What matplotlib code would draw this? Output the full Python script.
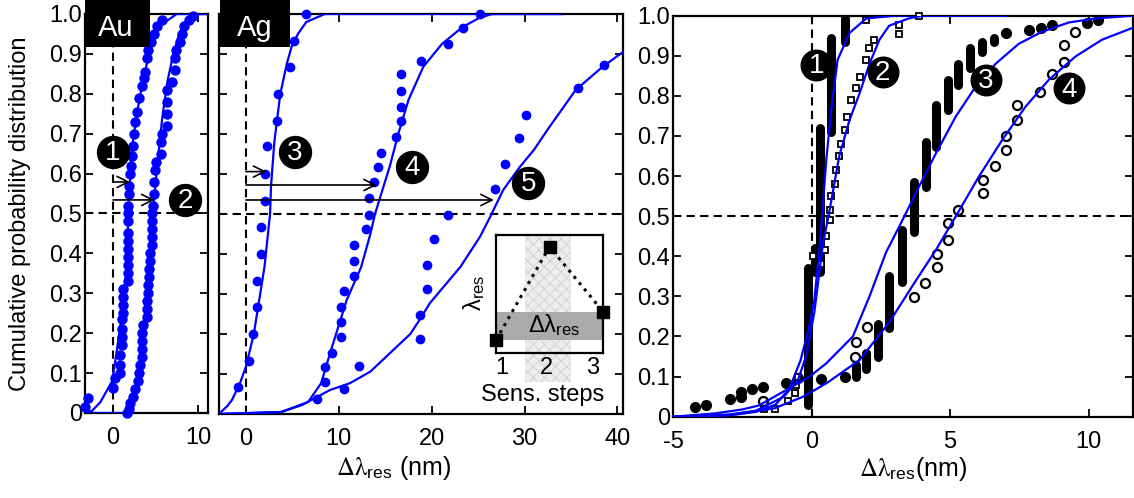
import matplotlib
matplotlib.use("Agg")
import matplotlib.pyplot as plt
from matplotlib.patches import Rectangle

plt.rcParams["font.family"] = ["Liberation Sans", "DejaVu Sans"]
plt.rcParams["mathtext.fontset"] = "stix"
plt.rcParams["axes.unicode_minus"] = False
plt.rcParams["hatch.linewidth"] = 0.6

BLUE = "#0000ff"
DASH = (0, (4, 2.5))

Y_TICKS = [0, 0.1, 0.2, 0.3, 0.4, 0.5, 0.6, 0.7, 0.8, 0.9, 1.0]
Y_TICK_LABELS = ["0", "0.1", "0.2", "0.3", "0.4", "0.5", "0.6", "0.7", "0.8", "0.9", "1.0"]

# ---------------------------------------------------------------------------
# Au panel: two measured distributions and their fits
# ---------------------------------------------------------------------------
au1_x = [-3.3, -2.9, 0.0, 0.2, 0.8, 0.8, 0.8, 1.0, 1.0, 1.0, 1.0, 1.2, 1.2, 1.2, 1.2,
         1.8, 1.8, 1.8, 1.8, 1.8, 1.8, 1.8, 1.8, 1.8, 1.8, 1.9, 1.9, 2.0, 2.1, 2.2,
         2.4, 2.5, 2.6, 2.8, 3.1, 3.4, 3.6, 3.8, 4.0, 4.1, 4.5, 4.8, 5.2, 5.8]
au1_y = [0.015, 0.038, 0.063, 0.088, 0.10, 0.12, 0.145, 0.17, 0.19, 0.21, 0.235, 0.25,
         0.27, 0.29, 0.31, 0.33, 0.35, 0.37, 0.39, 0.41, 0.43, 0.45, 0.48, 0.50, 0.52,
         0.55, 0.57, 0.60, 0.62, 0.645, 0.67, 0.70, 0.73, 0.755, 0.79, 0.82, 0.84,
         0.855, 0.89, 0.91, 0.93, 0.95, 0.97, 0.985]
au2_x = [1.7, 1.9, 2.0, 2.3, 2.6, 2.9, 3.1, 3.2, 3.4, 3.4, 3.4, 3.4, 3.5, 4.0, 4.0, 4.0,
         4.1, 4.1, 4.2, 4.2, 4.3, 4.4, 4.55, 4.55, 4.55, 4.55, 4.55, 4.7, 4.8, 4.8, 4.9,
         5.1, 5.7, 5.7, 5.8, 6.3, 6.3, 6.3, 6.4, 7.0, 7.3, 7.3, 7.4, 7.9, 8.1, 8.4, 8.9, 9.4]
au2_y = [0.0, 0.01, 0.025, 0.04, 0.06, 0.08, 0.10, 0.12, 0.14, 0.16, 0.18, 0.20, 0.22,
         0.24, 0.26, 0.28, 0.30, 0.32, 0.34, 0.36, 0.38, 0.40, 0.42, 0.44, 0.46, 0.48,
         0.50, 0.52, 0.55, 0.58, 0.61, 0.63, 0.65, 0.68, 0.70, 0.72, 0.75, 0.78, 0.81,
         0.83, 0.86, 0.89, 0.91, 0.93, 0.95, 0.97, 0.985, 0.995]
au_fit1_x = [-3.3, -2.5, -1.5, -0.1, 0.4, 0.8, 1.2, 1.6, 1.8, 2.2, 2.8, 3.5, 4.4, 5.5, 7.5, 11.2]
au_fit1_y = [0.0, 0.005, 0.027, 0.08, 0.15, 0.21, 0.27, 0.37, 0.50, 0.66, 0.75, 0.83, 0.915, 0.97, 1.0, 1.0]
au_fit2_x = [-3.3, 1.5, 2.2, 2.8, 3.3, 3.8, 4.3, 4.7, 5.2, 5.8, 6.4, 7.1, 7.8, 8.6, 9.5, 11.2]
au_fit2_y = [0.0, 0.0, 0.02, 0.06, 0.14, 0.26, 0.40, 0.50, 0.62, 0.74, 0.83, 0.90, 0.95, 0.98, 1.0, 1.0]
au_arrow_y = [0.579, 0.534]
au_arrow_end = [2.0, 4.9]
au_marks = ["1", "2"]
au_mark_x = [0.0, 8.5]
au_mark_y = [0.655, 0.534]

# ---------------------------------------------------------------------------
# Ag panel: three distributions (3, 4, 5)
# ---------------------------------------------------------------------------
ag3_x = [6.5, 5.2, 4.7, 3.5, 3.4, 2.3, 2.05, 2.05, 1.6, 1.6, 1.2, 1.2, 0.8, 0.36, -0.9]
ag3_y = [1.0, 0.933, 0.868, 0.80, 0.733, 0.67, 0.60, 0.533, 0.467, 0.40, 0.333, 0.267,
         0.20, 0.133, 0.068]
ag4_x = [25.2, 23.4, 21.8, 18.8, 16.7, 16.7, 16.7, 16.7, 16.2, 14.5, 14.2, 13.8, 13.3,
         13.3, 12.9, 11.6, 11.6, 11.6, 10.6, 10.2, 10.2, 10.2, 9.3, 8.5, 8.5, 7.7]
ag4_y = [1.0, 0.964, 0.924, 0.883, 0.85, 0.808, 0.768, 0.733, 0.693, 0.652, 0.618, 0.581,
         0.539, 0.498, 0.463, 0.423, 0.383, 0.346, 0.308, 0.268, 0.231, 0.192, 0.153,
         0.118, 0.081, 0.037]
ag5_x = [38.5, 35.8, 30.2, 29.4, 27.9, 26.8, 21.8, 20.2, 19.5, 19.5, 18.7, 18.7, 12.2, 10.6]
ag5_y = [0.873, 0.814, 0.748, 0.689, 0.624, 0.562, 0.498, 0.438, 0.373, 0.312, 0.248,
         0.187, 0.121, 0.063]
ag_fit3_x = [-2.9, -2.0, -1.5, -0.64, 0.0, 0.85, 2.0, 2.6, 2.7, 3.06, 3.7, 4.4, 4.9, 5.6, 6.5, 8.5, 34.0]
ag_fit3_y = [0.0, 0.02, 0.035, 0.077, 0.118, 0.20, 0.368, 0.50, 0.568, 0.68, 0.80, 0.875,
             0.917, 0.95, 0.98, 1.0, 1.0]
ag_fit4_x = [-2.9, 3.8, 6.7, 8.1, 9.06, 10.85, 12.4, 13.4, 13.9, 15.5, 16.4, 17.5,
             19.1, 21.1, 23.3, 25.1, 26.5, 34.0]
ag_fit4_y = [0.0, 0.005, 0.03, 0.077, 0.152, 0.285, 0.367, 0.45, 0.50, 0.62, 0.70,
             0.785, 0.868, 0.925, 0.967, 0.99, 1.0, 1.0]
ag_fit5_x = [-2.9, 3.8, 6.0, 9.06, 11.2, 13.4, 15.5, 17.7, 18.8, 19.8, 23.1, 25.2, 26.3,
             27.7, 29.5, 31.0, 32.6, 35.5, 38.4, 40.6]
ag_fit5_y = [0.0, 0.005, 0.022, 0.06, 0.077, 0.106, 0.152, 0.20, 0.239, 0.277, 0.368,
             0.443, 0.493, 0.56, 0.618, 0.66, 0.715, 0.81, 0.868, 0.905]
ag_arrow_y = [0.606, 0.5725, 0.535]
ag_arrow_end = [2.2, 14.1, 26.7]
ag_marks = ["3", "4", "5"]
ag_mark_x = [5.3, 17.9, 30.4]
ag_mark_y = [0.656, 0.618, 0.578]

# inset: resonance position over the three sensing steps
steps = [1, 2, 3]
step_vals = [0.11, 0.90, 0.35]
step_labels = ["1", "2", "3"]

# ---------------------------------------------------------------------------
# Right panel: four distributions (black) with fits (blue)
# ---------------------------------------------------------------------------
r1_stack_x = [-0.12, 0.11, 0.30, 0.71, 1.20]
r1_stack_lo = [0.03, 0.36, 0.36, 0.71, 0.935]
r1_stack_hi = [0.37, 0.42, 0.72, 0.945, 0.995]

r2_x = [-1.7, -1.33, -0.85, -0.61, -0.55, -0.5, 0.05, 0.35, 0.47, 0.53, 0.65, 0.65, 0.71,
        0.83, 0.89, 1.0, 1.07, 1.19, 1.27, 1.43, 1.6, 1.73, 1.95, 2.09, 2.27, 3.15, 3.15,
        1.97, 3.88]
r2_y = [0.018, 0.02, 0.04, 0.06, 0.08, 0.10, 0.40, 0.38, 0.416, 0.45, 0.49, 0.515, 0.55,
        0.58, 0.615, 0.65, 0.68, 0.715, 0.748, 0.79, 0.82, 0.848, 0.89, 0.92, 0.94, 0.954,
        0.977, 0.99, 0.998]

r3_x = [-4.2, -3.8, -2.95, -2.55, -2.55, -2.16, -1.75, -0.91, -0.5, 0.35, 1.19,
        7.0, 7.84, 8.27, 8.67, 9.94, 10.34]
r3_y = [0.024, 0.029, 0.043, 0.05, 0.062, 0.068, 0.073, 0.085, 0.096, 0.094, 0.10,
        0.956, 0.964, 0.97, 0.976, 0.983, 0.99]
r3_stack_x = [1.6, 1.97, 2.39, 2.8, 3.28, 3.68, 4.13, 4.5, 4.93, 5.3, 5.72, 6.16, 6.6]
r3_stack_lo = [0.10, 0.12, 0.15, 0.22, 0.335, 0.46, 0.574, 0.673, 0.765, 0.827, 0.87, 0.91, 0.935]
r3_stack_hi = [0.13, 0.16, 0.23, 0.35, 0.465, 0.586, 0.686, 0.777, 0.84, 0.88, 0.92, 0.935, 0.945]

r4_x = [-1.75, 1.55, 1.6, 2.0, 3.7, 4.1, 4.52, 4.52, 4.93, 4.93, 5.3, 6.2, 6.2, 6.62,
        7.0, 7.0, 7.42, 7.42, 8.23, 8.66, 9.1, 9.1, 9.52]
r4_y = [0.04, 0.15, 0.187, 0.224, 0.298, 0.333, 0.373, 0.406, 0.44, 0.482, 0.515, 0.557,
        0.59, 0.625, 0.665, 0.70, 0.74, 0.777, 0.81, 0.855, 0.885, 0.927, 0.96]

r_fit1_x = [-5.0, -3.0, -2.0, -1.3, -0.8, -0.4, -0.1, 0.1, 0.3, 0.53, 0.71, 0.94, 1.37, 1.97, 3.0, 7.0]
r_fit1_y = [0.0, 0.003, 0.012, 0.03, 0.07, 0.14, 0.22, 0.29, 0.43, 0.64, 0.765, 0.89,
            0.957, 0.993, 1.0, 1.0]
r_fit2_x = [-5.0, -3.0, -2.0, -1.0, -0.5, -0.2, 0.1, 0.41, 0.65, 1.0, 1.37, 1.73, 2.09,
            2.45, 2.8, 3.5, 4.0, 7.0]
r_fit2_y = [0.0, 0.005, 0.015, 0.05, 0.09, 0.15, 0.26, 0.43, 0.515, 0.65, 0.74, 0.806,
            0.88, 0.94, 0.975, 0.993, 1.0, 1.0]
r_fit3_x = [-5.0, -3.5, -2.5, -1.9, -0.9, -0.07, 0.53, 1.49, 2.09, 2.69, 3.28, 3.88, 4.49,
            5.2, 5.92, 6.64, 7.48, 8.32, 9.28, 10.24, 11.6]
r_fit3_y = [0.0, 0.008, 0.018, 0.028, 0.067, 0.10, 0.133, 0.20, 0.30, 0.41, 0.49, 0.574,
            0.657, 0.748, 0.823, 0.88, 0.93, 0.96, 0.983, 0.993, 1.0]
r_fit4_x = [-5.0, -2.9, -1.33, -0.3, 0.53, 1.73, 2.8, 3.77, 4.49, 5.2, 6.04, 6.88, 7.72,
            8.56, 9.52, 10.48, 11.6]
r_fit4_y = [0.0, 0.005, 0.021, 0.05, 0.083, 0.141, 0.235, 0.34, 0.416, 0.499, 0.599,
            0.69, 0.773, 0.84, 0.898, 0.94, 0.97]
r_marks = ["1", "2", "3", "4"]
r_mark_x = [0.17, 2.57, 6.28, 9.28]
r_mark_y = [0.877, 0.86, 0.84, 0.819]

XLABEL = r"$\mathrm{\Delta\lambda}_{\mathregular{res}}$"


def style_axes(ax, xlim, xticks, ylabels=True):
    ax.set_xlim(*xlim)
    ax.set_ylim(0, 1)
    ax.set_xticks(xticks)
    ax.set_yticks(Y_TICKS)
    ax.set_yticklabels(Y_TICK_LABELS)
    ax.tick_params(direction="in", length=6, width=1.3, top=True, right=True, labelsize=17)
    ax.tick_params(axis="x", pad=10)
    ax.tick_params(axis="y", pad=2, labelleft=ylabels)
    for sp in ax.spines.values():
        sp.set_linewidth(1.6)
    ax.axhline(0.5, color="k", lw=1.5, ls=DASH, zorder=1)
    ax.axvline(0, color="k", lw=1.5, ls=DASH, zorder=1)


def metal_tag(ax, text, x0, width, tx):
    ax.add_patch(Rectangle((x0, 0.917), width, 0.2, transform=ax.transAxes,
                           fc="black", ec="none", clip_on=False, zorder=20))
    ax.text(tx, 0.966, text, transform=ax.transAxes, color="white", fontsize=21,
            ha="center", va="center", zorder=21)


def number_marks(ax, xs, ys, labels, size=23):
    ax.plot(xs, ys, "o", ms=size, color="black", ls="none", clip_on=False, zorder=15)
    for x, y, s in zip(xs, ys, labels):
        ax.annotate(s, (x, y), xytext=(0, -1), textcoords="offset points", color="white",
                    fontsize=20, ha="center", va="center", zorder=16)


def arrows(ax, ys, ends):
    for y, xe in zip(ys, ends):
        ax.annotate("", xy=(xe, y), xytext=(0, y),
                    arrowprops=dict(arrowstyle="->", lw=1.2, color="black",
                                    mutation_scale=20, shrinkA=0, shrinkB=0), zorder=12)


fig = plt.figure(figsize=(11.34, 4.98), dpi=100)
ax_au = fig.add_axes([0.0750, 0.1707, 0.1085, 0.8012])
ax_ag = fig.add_axes([0.1931, 0.1687, 0.3563, 0.8032])
ax_r = fig.add_axes([0.5935, 0.1633, 0.4056, 0.8052])
ax_in = fig.add_axes([0.4374, 0.2912, 0.0944, 0.2370])

# Au
style_axes(ax_au, (-3.3, 11.2), [0, 10])
au_dot = dict(marker="o", ls="none", color=BLUE, ms=6.5, clip_on=False, zorder=3)
ax_au.plot(au1_x, au1_y, **au_dot)
ax_au.plot(au2_x, au2_y, **au_dot)
ax_au.plot(au_fit1_x, au_fit1_y, color=BLUE, lw=1.6, zorder=4)
ax_au.plot(au_fit2_x, au_fit2_y, color=BLUE, lw=1.6, zorder=4)
arrows(ax_au, au_arrow_y, au_arrow_end)
number_marks(ax_au, au_mark_x, au_mark_y, au_marks)
metal_tag(ax_au, "Au", 0.0, 0.528, 0.252)
ax_au.set_ylabel("Cumulative probability distribution", fontsize=17)
ax_au.yaxis.set_label_coords(-0.44, 0.5)

# Ag
style_axes(ax_ag, (-2.9, 40.6), [0, 10, 20, 30, 40], ylabels=False)
ag_dot = dict(marker="o", ls="none", color=BLUE, ms=6, clip_on=False, zorder=3)
ax_ag.plot(ag3_x, ag3_y, **ag_dot)
ax_ag.plot(ag4_x, ag4_y, **ag_dot)
ax_ag.plot(ag5_x, ag5_y, **ag_dot)
for fx, fy in [(ag_fit3_x, ag_fit3_y), (ag_fit4_x, ag_fit4_y), (ag_fit5_x, ag_fit5_y)]:
    ax_ag.plot(fx, fy, color=BLUE, lw=1.6, zorder=4)
arrows(ax_ag, ag_arrow_y, ag_arrow_end)
number_marks(ax_ag, ag_mark_x, ag_mark_y, ag_marks)
metal_tag(ax_ag, "Ag", 0.0025, 0.174, 0.089)
ax_ag.set_xlabel(XLABEL + " (nm)", fontsize=18)
ax_ag.xaxis.set_label_coords(0.433, -0.10)

# inset sketch
ax_in.set_xlim(1, 3)
ax_in.set_ylim(0, 1)
ax_in.axvspan(1.55, 2.4, ymin=-0.25, ymax=1, fc="#ededed", ec="#cfcfcf", hatch="xxx",
              lw=0, clip_on=False, zorder=0)
ax_in.axhspan(step_vals[0], step_vals[2], color="#aaaaaa", lw=0, zorder=1)
ax_in.plot(steps, step_vals, ls=":", color="black", lw=2.2, marker="s", ms=8.5,
           clip_on=False, zorder=5)
ax_in.text(2.08, (step_vals[0] + step_vals[2]) / 2, "Δλ$_{\\mathregular{res}}$",
           fontsize=17, ha="center", va="center", zorder=6)
ax_in.set_xticks([1.1, 1.95, 2.8])
ax_in.set_xticklabels(step_labels)
ax_in.set_yticks([])
ax_in.tick_params(axis="x", length=0, pad=3, labelsize=17)
ax_in.text(0.44, -0.36, "Sens. steps", transform=ax_in.transAxes, fontsize=17,
           ha="center", va="center")
ax_in.text(-0.2, 0.51, "λ$_{\\mathregular{res}}$", transform=ax_in.transAxes,
           fontsize=17, rotation=90, ha="center", va="center")
for sp in ax_in.spines.values():
    sp.set_linewidth(1.6)

# right panel
style_axes(ax_r, (-5.0, 11.6), [-5, 0, 5, 10])
stack1 = ax_r.vlines(r1_stack_x, r1_stack_lo, r1_stack_hi, colors="black", lw=6.5, zorder=3)
stack3 = ax_r.vlines(r3_stack_x, r3_stack_lo, r3_stack_hi, colors="black", lw=6.5, zorder=3)
for coll in (stack1, stack3):
    coll.set_capstyle("round")
ax_r.plot(r3_x, r3_y, "o", color="black", ms=7, ls="none", clip_on=False, zorder=3)
ax_r.plot(r2_x, r2_y, "s", mfc="white", mec="black", mew=1.3, ms=5, ls="none",
          clip_on=False, zorder=3)
ax_r.plot(r4_x, r4_y, "o", mfc="none", mec="black", mew=1.6, ms=6.5, ls="none",
          clip_on=False, zorder=3)
for fx, fy in [(r_fit1_x, r_fit1_y), (r_fit2_x, r_fit2_y), (r_fit3_x, r_fit3_y),
               (r_fit4_x, r_fit4_y)]:
    ax_r.plot(fx, fy, color=BLUE, lw=1.6, zorder=4)
number_marks(ax_r, r_mark_x, r_mark_y, r_marks, size=22)
ax_r.set_xlabel(XLABEL + "(nm)", fontsize=18)
ax_r.xaxis.set_label_coords(0.522, -0.095)

fig.savefig("out.png", dpi=100)
